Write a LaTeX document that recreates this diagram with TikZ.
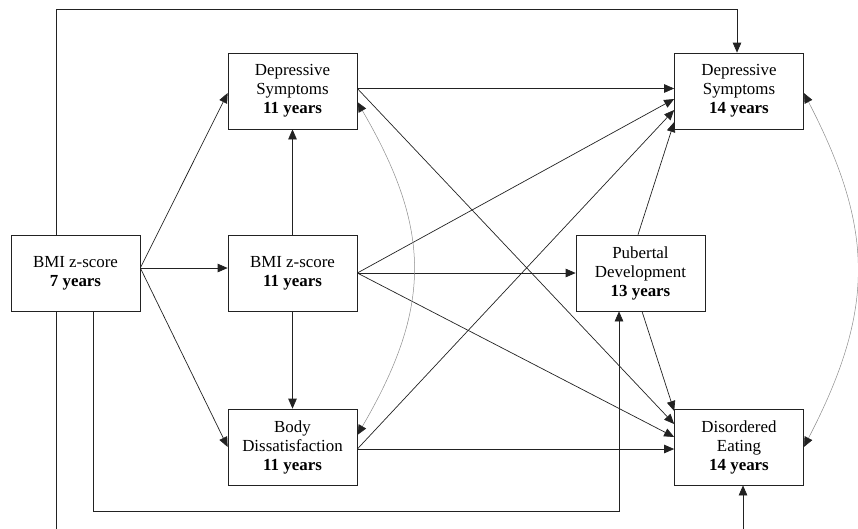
\documentclass[tikz,border=0pt]{standalone}
\usepackage{fontspec}
\setmainfont{Liberation Serif}
\usetikzlibrary{arrows.meta}
\definecolor{edge}{HTML}{222222}
\definecolor{corrgray}{HTML}{8C8C8C}
\tikzset{box/.style={
    draw=edge,
    line width=0.7pt,
    fill=white,
    minimum width=129pt,
    minimum height=76pt,
    inner sep=0pt,
    align=center,
    font=\fontsize{16.9}{19}\selectfont}}
\tikzset{arr/.style={
    draw=edge,
    line width=0.7pt,
    -{Triangle[length=10pt,width=8.5pt]}}}
\tikzset{corr/.style={
    draw=corrgray,
    line width=0.5pt,
    {Triangle[length=10pt,width=8.5pt,color=edge]}-{Triangle[length=10pt,width=8.5pt,color=edge]}}}

\begin{document}
\begin{tikzpicture}[x=1pt, y=-1pt]
  \clip (0,0) rectangle (858,528);
  \coordinate (B7) at (75.5,273);
\coordinate (D11) at (292.5,91);
\coordinate (B11) at (292.5,273);
\coordinate (BD11) at (292.5,447);
\coordinate (P13) at (640.5,273);
\coordinate (D14) at (739,91);
\coordinate (DE14) at (739,447);

\node[box] (bmi7) at (B7) {BMI z-score\\\textbf{7 years}};
\node[box] (dep11) at (D11) {Depressive\\Symptoms\\\textbf{11 years}};
\node[box] (bmi11) at (B11) {BMI z-score\\\textbf{11 years}};
\node[box] (body11) at (BD11) {Body\\Dissatisfaction\\\textbf{11 years}};
\node[box] (pub13) at (P13) {Pubertal\\Development\\\textbf{13 years}};
\node[box] (dep14) at (D14) {Depressive\\Symptoms\\\textbf{14 years}};
\node[box] (eat14) at (DE14) {Disordered\\Eating\\\textbf{14 years}};

% from BMI 7 years
\coordinate (b7out) at ([yshift=5pt]bmi7.east);
\draw[arr] (b7out) -- ([yshift=-2pt]dep11.west);
\draw[arr] (b7out) -- ([yshift=5pt]bmi11.west);
\draw[arr] (b7out) -- (body11.west);
\draw[arr] ([xshift=-19.5pt]bmi7.north) -- ++(0,-225) -| ([xshift=-2pt]dep14.north);
\draw[arr] ([xshift=17.5pt]bmi7.south) -- ++(0,200) -| ([xshift=-21.5pt]pub13.south);
\draw[arr] ([xshift=-19.5pt]bmi7.south) -- ++(0,225) -| ([xshift=4pt]eat14.south);

% from BMI 11 years
\draw[arr] (bmi11.north) -- (dep11.south);
\draw[arr] (bmi11.south) -- (body11.north);
\draw[arr] (bmi11.east) -- ([yshift=-8pt]dep14.west);
\draw[arr] (bmi11.east) -- (pub13.west);
\draw[arr] (bmi11.east) -- ([yshift=10pt]eat14.west);

% from 11 years to 14 years
\draw[arr] ([yshift=2.5pt]dep11.east) -- ([yshift=2.5pt]dep14.west);
\draw[arr] ([yshift=2.5pt]dep11.east) -- ([yshift=23pt]eat14.west);
\draw[arr] ([yshift=-2pt]body11.east) -- ([yshift=-19pt]dep14.west);
\draw[arr] ([yshift=-2pt]body11.east) -- ([yshift=-2pt]eat14.west);

% from Pubertal Development
\draw[arr] ([xshift=-2.5pt]pub13.north) -- ([yshift=-31pt]dep14.west);
\draw[arr] ([xshift=1.5pt]pub13.south) -- ([yshift=36pt]eat14.west);

% correlations
\draw[corr] ([yshift=-11pt]dep11.east) .. controls (432,230) and (432,307) .. ([yshift=12pt]body11.east);
\draw[corr] ([yshift=-2pt]dep14.east) .. controls (875,230) and (875,310) .. (eat14.east);

\end{tikzpicture}
\end{document}
